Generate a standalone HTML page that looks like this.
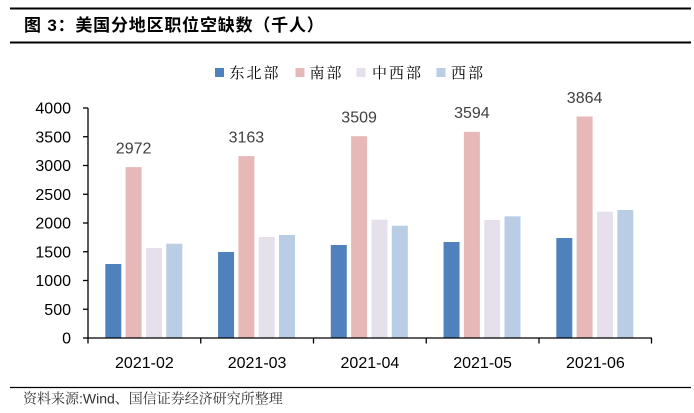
<!DOCTYPE html>
<html>
<head>
<meta charset="utf-8">
<style>
  html, body { margin: 0; padding: 0; background: #fff; }
  body { width: 694px; height: 413px; overflow: hidden; }
  svg { display: block; }
  .num { font-family: "Liberation Sans", Arial, sans-serif; font-size: 16px; }
</style>
</head>
<body>
<svg width="694" height="413" viewBox="0 0 694 413" xmlns="http://www.w3.org/2000/svg">
  <!-- header lines -->
  <line x1="10" y1="8.5" x2="691" y2="8.5" stroke="#000" stroke-width="2"/>
  <line x1="10" y1="42.5" x2="691" y2="42.5" stroke="#000" stroke-width="2"/>
  <text x="24" y="31" font-family="'Liberation Sans', 'Noto Sans CJK SC', sans-serif" font-size="17" font-weight="bold" letter-spacing="0.8" fill="#000">图 3：美国分地区职位空缺数（千人）</text>

  <!-- legend -->
  <g font-family="'Noto Serif CJK SC', 'Noto Sans CJK SC', serif" font-size="15" letter-spacing="2" fill="#000">
    <rect x="215" y="68" width="9" height="9" fill="#4F81BD"/>
    <text x="229.5" y="78">东北部</text>
    <rect x="295.5" y="68" width="9" height="9" fill="#E6B9B8"/>
    <text x="309.5" y="78">南部</text>
    <rect x="356.5" y="68" width="9" height="9" fill="#E6E0EC"/>
    <text x="372" y="78">中西部</text>
    <rect x="436.5" y="68" width="9" height="9" fill="#B9CDE5"/>
    <text x="451" y="78">西部</text>
  </g>

  <!-- y axis labels -->
  <g class="num" fill="#000" text-anchor="end">
    <text x="71" y="113.7">4000</text>
    <text x="71" y="142.5">3500</text>
    <text x="71" y="171.2">3000</text>
    <text x="71" y="200">2500</text>
    <text x="71" y="228.7">2000</text>
    <text x="71" y="257.5">1500</text>
    <text x="71" y="286.2">1000</text>
    <text x="71" y="315">500</text>
    <text x="71" y="343.7">0</text>
  </g>

  <!-- bars -->
  <g>
    <rect x="105.3" y="264.0" width="16" height="74.0" fill="#4F81BD"/>
    <rect x="125.6" y="167.1" width="16" height="170.9" fill="#E6B9B8"/>
    <rect x="146.0" y="248.0" width="16" height="90.0" fill="#E6E0EC"/>
    <rect x="166.3" y="243.7" width="16" height="94.3" fill="#B9CDE5"/>

    <rect x="218.05" y="252.0" width="16" height="86.0" fill="#4F81BD"/>
    <rect x="238.4" y="156.1" width="16" height="181.9" fill="#E6B9B8"/>
    <rect x="258.7" y="237.0" width="16" height="101.0" fill="#E6E0EC"/>
    <rect x="279.0" y="235.0" width="16" height="103.0" fill="#B9CDE5"/>

    <rect x="330.8" y="245.0" width="16" height="93.0" fill="#4F81BD"/>
    <rect x="351.1" y="136.2" width="16" height="201.8" fill="#E6B9B8"/>
    <rect x="371.5" y="219.7" width="16" height="118.3" fill="#E6E0EC"/>
    <rect x="391.8" y="225.7" width="16" height="112.3" fill="#B9CDE5"/>

    <rect x="443.55" y="242.0" width="16" height="96.0" fill="#4F81BD"/>
    <rect x="463.9" y="131.8" width="16" height="206.2" fill="#E6B9B8"/>
    <rect x="484.2" y="220.0" width="16" height="118.0" fill="#E6E0EC"/>
    <rect x="504.5" y="216.3" width="16" height="121.7" fill="#B9CDE5"/>

    <rect x="556.3" y="238.0" width="16" height="100.0" fill="#4F81BD"/>
    <rect x="576.6" y="116.5" width="16" height="221.5" fill="#E6B9B8"/>
    <rect x="597.0" y="211.7" width="16" height="126.3" fill="#E6E0EC"/>
    <rect x="617.3" y="210.0" width="16" height="128.0" fill="#B9CDE5"/>
  </g>

  <!-- data labels -->
  <g class="num" fill="#404040" text-anchor="middle">
    <text x="133.6" y="153.6">2972</text>
    <text x="246.4" y="142.6">3163</text>
    <text x="359.1" y="122.7">3509</text>
    <text x="471.9" y="118.0">3594</text>
    <text x="584.6" y="102.8">3864</text>
  </g>

  <!-- axes -->
  <g stroke="#000" stroke-width="1.3" fill="none">
    <line x1="88" y1="108" x2="88" y2="338.5"/>
    <line x1="87.5" y1="338" x2="652" y2="338"/>
    <line x1="83" y1="108" x2="88" y2="108"/>
    <line x1="83" y1="136.75" x2="88" y2="136.75"/>
    <line x1="83" y1="165.5" x2="88" y2="165.5"/>
    <line x1="83" y1="194.25" x2="88" y2="194.25"/>
    <line x1="83" y1="223" x2="88" y2="223"/>
    <line x1="83" y1="251.75" x2="88" y2="251.75"/>
    <line x1="83" y1="280.5" x2="88" y2="280.5"/>
    <line x1="83" y1="309.25" x2="88" y2="309.25"/>
    <line x1="83" y1="338" x2="88" y2="338"/>
    <line x1="88" y1="338" x2="88" y2="343.5"/>
    <line x1="200.75" y1="338" x2="200.75" y2="343.5"/>
    <line x1="313.5" y1="338" x2="313.5" y2="343.5"/>
    <line x1="426.25" y1="338" x2="426.25" y2="343.5"/>
    <line x1="539" y1="338" x2="539" y2="343.5"/>
    <line x1="651.5" y1="338" x2="651.5" y2="343.5"/>
  </g>

  <!-- x labels -->
  <g class="num" fill="#000" text-anchor="middle">
    <text x="144.4" y="368">2021-02</text>
    <text x="257.1" y="368">2021-03</text>
    <text x="369.9" y="368">2021-04</text>
    <text x="482.6" y="368">2021-05</text>
    <text x="595.4" y="368">2021-06</text>
  </g>

  <!-- footer -->
  <line x1="10" y1="387.5" x2="691" y2="387.5" stroke="#000" stroke-width="1.3"/>
  <text x="23" y="403.5" font-family="'Liberation Sans', 'Noto Serif CJK SC', serif" font-size="14" fill="#333">资料来源:Wind、国信证券经济研究所整理</text>
</svg>
</body>
</html>
